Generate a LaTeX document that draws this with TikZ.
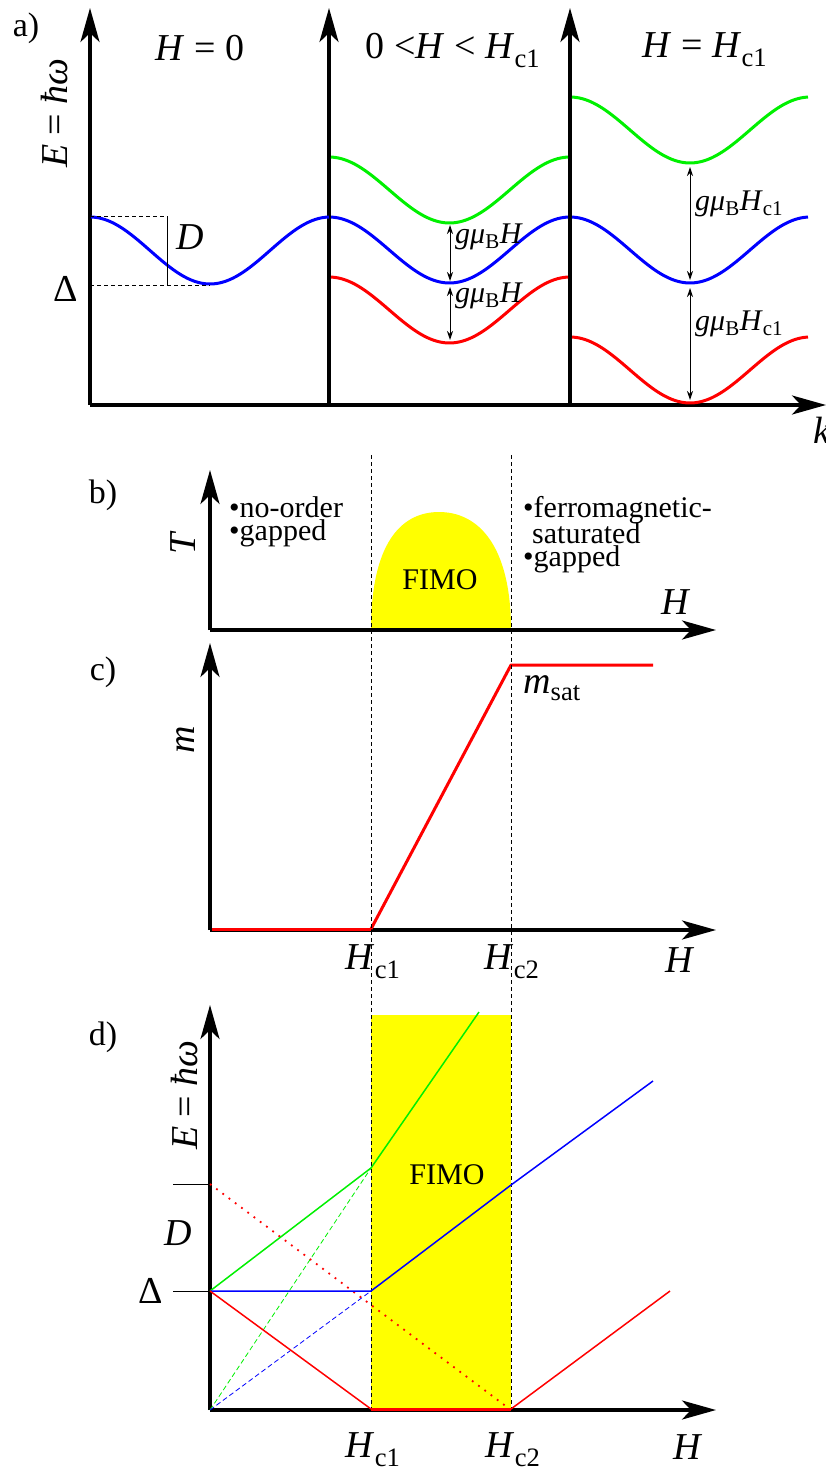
\documentclass[tikz,border=0pt]{standalone}
\usepackage{fontspec}
\setmainfont{Liberation Serif}
\usepackage{tikz}
\usetikzlibrary{arrows.meta, positioning}

\definecolor{bandgreen}{RGB}{0,240,0}
\definecolor{bandblue}{RGB}{0,0,255}
\definecolor{bandred}{RGB}{255,0,0}
\definecolor{fimoyellow}{RGB}{255,255,0}

\newcommand{\Hc}[1]{\textit{H}\textsubscript{c#1}}
\newcommand{\gmuB}{\textit{gμ}\textsubscript{B}}

\begin{document}
\begin{tikzpicture}[
    x=1pt, y=-1pt,
    axisline/.style={line width=3.4pt, -{Stealth[length=34pt, width=19pt, inset=9pt]}},
    bandline/.style={line width=3pt},
    gapline/.style={line width=1pt, {Stealth[length=9pt, width=6pt]}-{Stealth[length=9pt, width=6pt]}},
    critline/.style={line width=1pt, dash pattern=on 4pt off 3pt},
    thinline/.style={line width=1.5pt},
    bigfont/.style={font=\fontsize{38}{40}\selectfont, inner sep=0pt},
    midfont/.style={font=\fontsize{30}{32}\selectfont, inner sep=0pt},
    smallfont/.style={font=\fontsize{30}{23}\selectfont, inner sep=0pt, align=left},
    panelname/.style={font=\fontsize{34}{36}\selectfont, inner sep=0pt}
]
\useasboundingbox (0,0) rectangle (826,1472);

% --- a) dispersion at three fields ---
\coordinate (aO1) at (90,405);
\coordinate (aT1) at (90,8);
\coordinate (aO2) at (329,405);
\coordinate (aT2) at (329,8);
\coordinate (aO3) at (570,405);
\coordinate (aT3) at (570,8);
\coordinate (aK)  at (826,405);

\draw[axisline] (aO1) -- (aT1);
\draw[axisline] (aO2) -- (aT2);
\draw[axisline] (aO3) -- (aT3);
\draw[axisline] (aO1) -- (aK);

\node[panelname] (la) at (26,28) {a)};
\node[bigfont, rotate=90] (ea) at (55,113) {\textit{E} = \textit{ħω}};
\node[bigfont] (k) at (822,430) {\textit{k}};
\node[bigfont] (h0) at (200,48) {\textit{H} = 0};
\node[bigfont] (h1) at (453,50) {0 <\textit{H} < \Hc{1}};
\node[bigfont] (h2) at (705,50) {\textit{H} = \Hc{1}};

% bands (cosine shaped)
\draw[bandline, bandblue]  plot[domain=91:329, samples=70] (\x, {250.5-33.5*cos(1.5*(\x-90))});
\draw[bandline, bandgreen] plot[domain=331:568, samples=70] (\x, {190-33*cos(1.494*(\x-329))});
\draw[bandline, bandblue]  plot[domain=331:568, samples=70] (\x, {250-33*cos(1.494*(\x-329))});
\draw[bandline, bandred]   plot[domain=331:568, samples=70] (\x, {310-33*cos(1.494*(\x-329))});
\draw[bandline, bandgreen] plot[domain=572:808, samples=70] (\x, {130-33*cos(1.5*(\x-570))});
\draw[bandline, bandblue]  plot[domain=572:808, samples=70] (\x, {250-33*cos(1.5*(\x-570))});
\draw[bandline, bandred]   plot[domain=572:808, samples=70] (\x, {370-33*cos(1.5*(\x-570))});

% bandwidth D and gap
\coordinate (dTop) at (167,216);
\coordinate (dBot) at (167,285);
\draw[line width=1pt, dash pattern=on 4pt off 3pt] (aO1 |- dTop) -- (dTop);
\draw[line width=1pt, dash pattern=on 4pt off 3pt] (aO1 |- dBot) -- (210,285);
\draw[line width=1pt] (dTop) -- (dBot);
\node[bigfont] (dlab) at (190,237) {\textit{D}};
\node[bigfont] (gap) at (66,289) {Δ};

% Zeeman splittings
\coordinate (z1a) at (450,225);
\coordinate (z1b) at (450,281);
\coordinate (z2a) at (450,287);
\coordinate (z2b) at (450,340);
\coordinate (z3a) at (690,167);
\coordinate (z3b) at (690,280);
\coordinate (z4a) at (690,288);
\coordinate (z4b) at (690,400);
\draw[gapline] (z1a) -- (z1b);
\draw[gapline] (z2a) -- (z2b);
\draw[gapline] (z3a) -- (z3b);
\draw[gapline] (z4a) -- (z4b);
\node[midfont, anchor=west] (s1) at (455,237) {\gmuB\textit{H}};
\node[midfont, anchor=west] (s2) at (455,296) {\gmuB\textit{H}};
\node[midfont, anchor=west] (s3) at (695,204) {\gmuB\Hc{1}};
\node[midfont, anchor=west] (s4) at (695,324) {\gmuB\Hc{1}};

% --- critical fields through b), c), d) ---
\coordinate (c1top) at (371,455);
\coordinate (c1bot) at (371,1410);
\coordinate (c2top) at (511,455);
\coordinate (c2bot) at (511,1410);

% --- b) phase diagram ---
\fill[fimoyellow] (371,630) .. controls (371,545) and (400,512) .. (439,512)
                  .. controls (478,512) and (511,545) .. (511,630) -- cycle;
\draw[axisline] (210,630) -- (210,470);
\draw[axisline] (210,630) -- (716,630);
\node[panelname] (lb) at (103,495) {b)};
\node[bigfont, rotate=90] (tb) at (183,543) {\textit{T}};
\node[bigfont] (hb) at (676,602) {\textit{H}};
\node[midfont] (fb) at (440,580) {FIMO};
\node[smallfont, anchor=north west] (nb) at (229,496) {•no-order\\•gapped};
\node[smallfont, anchor=north west] (rb) at (523,496) {•ferromagnetic-\\[-2pt]\hspace*{9pt}saturated\\•gapped};

% --- c) magnetisation ---
\draw[axisline] (210,930) -- (210,643);
\draw[axisline] (210,930) -- (716,930);
\node[panelname] (lc) at (103,672) {c)};
\node[bigfont, rotate=90] (mc) at (186,740) {\textit{m}};
\coordinate (mA) at (212,929);
\coordinate (mB) at (371,929);
\coordinate (mC) at (511,665);
\coordinate (mD) at (653,665);
\draw[bandred, line width=3pt] (mA) -- (mB);
\draw[bandred, line width=3pt, line join=round] (mB) -- (mC) -- (mD);
\node[bigfont] (ms) at (552,688) {\textit{m}\textsubscript{sat}};
\node[bigfont] (hc1c) at (373,962) {\Hc{1}};
\node[bigfont] (hc2c) at (512,962) {\Hc{2}};
\node[bigfont] (hc) at (680,960) {\textit{H}};

% --- d) energy levels vs field ---
\fill[fimoyellow] (371,1015) rectangle (511,1410);
\draw[critline] (c1top) -- (c1bot);
\draw[critline] (c2top) -- (c2bot);
\draw[axisline] (210,1410) -- (210,1005);
\draw[axisline] (210,1410) -- (716,1410);
\node[panelname] (ld) at (103,1037) {d)};
\node[bigfont, rotate=90] (ed) at (185,1095) {\textit{E} = \textit{ħω}};
\node[midfont] (fd) at (447,1175) {FIMO};

\coordinate (dO)  at (210,1410);
\coordinate (dDl) at (210,1291);
\coordinate (dDD) at (210,1184);
\draw[line width=1pt] (173,1184) -- (dDD);
\draw[line width=1pt] (173,1291) -- (dDl);
\node[bigfont] (dd) at (178,1233) {\textit{D}};
\node[bigfont] (dg) at (151,1291) {Δ};

\draw[bandgreen, line width=0.8pt, dash pattern=on 5pt off 3pt] (dO) -- (371,1168);
\draw[bandblue, line width=0.8pt, dash pattern=on 5pt off 3pt] (dO) -- (371,1291);
\draw[bandred, line width=1.8pt, dash pattern=on 1.8pt off 6pt] (dDD) -- (511,1410);
\draw[thinline, bandgreen] (dDl) -- (371,1168) -- (479,1012);
\draw[thinline, bandblue] (dDl) -- (371,1291) -- (511,1185) -- (653,1081);
\draw[thinline, bandred] (dDl) -- (371,1409);
\draw[bandred, line width=3pt] (371,1409) -- (511,1409);
\draw[thinline, bandred] (511,1409) -- (670,1291);
\node[bigfont] (hc1d) at (373,1450) {\Hc{1}};
\node[bigfont] (hc2d) at (513,1450) {\Hc{2}};
\node[bigfont] (hd) at (688,1447) {\textit{H}};

\end{tikzpicture}
\end{document}
